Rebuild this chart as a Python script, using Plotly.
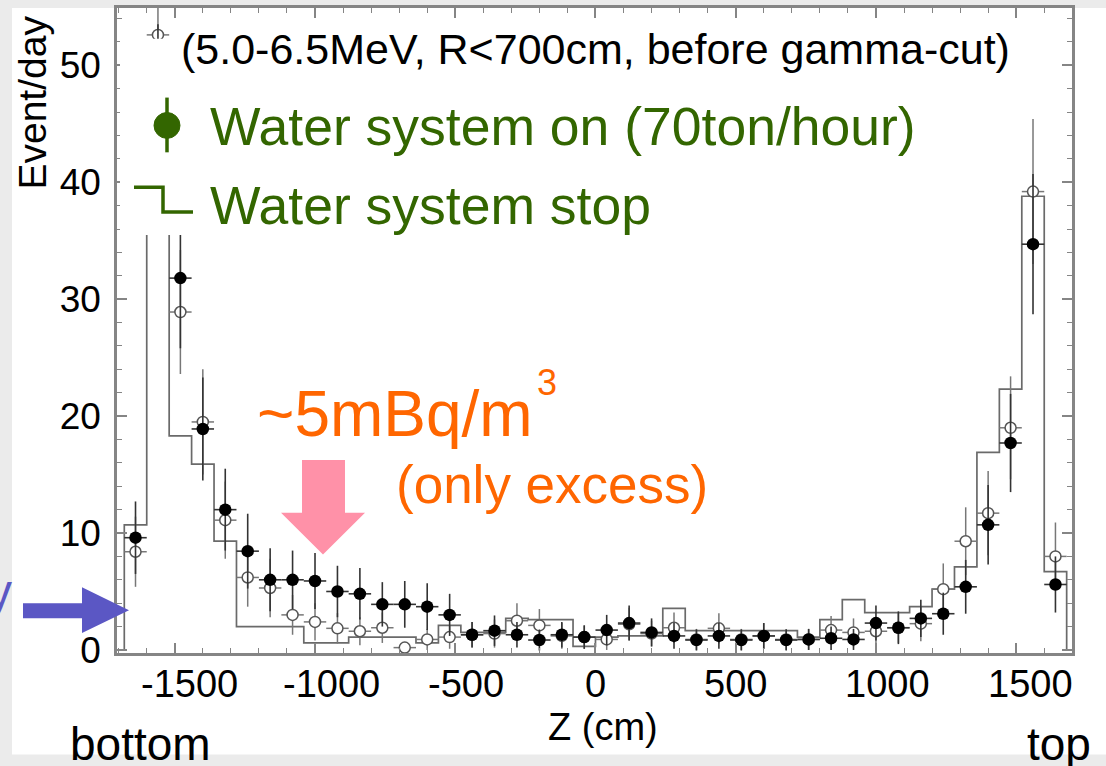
import plotly.graph_objects as go

# Z bin centres (cm), 80 cm bins
z_cm = [-1640, -1560, -1480, -1400, -1320, -1240, -1160, -1080, -1000, -920,
        -840, -760, -680, -600, -520, -440, -360, -280, -200, -120,
        -40, 40, 120, 200, 280, 360, 440, 520, 600, 680,
        760, 840, 920, 1000, 1080, 1160, 1240, 1320, 1400, 1480,
        1560, 1640]
bin_half = 40

# Water system stop: histogram (events/day)
stop_hist = [10.7, 50.0, 18.3, 15.9, 9.3, 2.0, 2.0, 2.0, 0.6, 0.6,
             1.1, 1.1, 1.1, 0.6, 2.1, 1.5, 1.5, 2.7, 2.6, 2.6,
             0.3, 1.1, 1.2, 1.2, 3.55, 1.65, 1.65, 1.65, 1.65, 1.65,
             1.1, 2.6, 4.3, 3.2, 3.2, 3.7, 5.2, 7.1, 16.9, 22.3,
             38.8, 6.7]

# open points (events/day) and their errors
open_vals = [8.4, 52.6, 28.9, 19.5, 11.1, 6.2, 5.3, 3.0, 2.4, 1.85,
             1.6, 1.9, 0.2, 0.9, 1.1, 1.3, 1.4, 2.5, 2.1, 1.2,
             1.1, 0.9, 2.2, 1.4, 1.9, 0.9, 1.85, 0.9, 1.2, 0.9,
             0.9, 1.7, 1.5, 1.6, 1.9, 2.25, 5.2, 9.3, 11.7, 19.0,
             39.2, 8.0]
open_err = [3.0, 6.8, 5.3, 4.5, 3.3, 2.5, 2.5, 1.7, 1.6, 1.3,
            1.2, 1.3, 0.4, 0.9, 1.0, 1.1, 1.2, 1.5, 1.4, 1.1,
            1.0, 0.9, 1.4, 1.1, 1.3, 0.9, 1.3, 0.9, 1.1, 0.9,
            0.9, 1.2, 1.2, 1.2, 1.3, 1.5, 2.2, 2.9, 3.6, 4.4,
            6.2, 2.9]

# Water system on (70 ton/hour): filled points and errors
on_vals = [9.6, 47.0, 31.8, 18.9, 12.0, 8.45, 6.0, 6.0, 5.9, 5.0,
           4.8, 3.9, 3.9, 3.7, 3.0, 1.3, 1.65, 1.3, 0.85, 1.3,
           1.1, 1.7, 2.3, 1.5, 1.2, 0.85, 1.2, 0.85, 1.2, 0.85,
           0.9, 1.0, 0.9, 2.3, 1.9, 2.7, 3.1, 5.4, 10.7, 17.7,
           34.7, 5.6]
on_err = [3.1, 6.5, 6.0, 4.4, 3.5, 3.2, 2.7, 2.5, 2.4, 2.2,
          2.2, 1.9, 2.0, 2.0, 1.8, 1.1, 1.3, 1.1, 0.9, 1.1,
          1.0, 1.3, 1.5, 1.2, 1.1, 0.9, 1.1, 0.9, 1.1, 0.9,
          0.9, 1.0, 0.9, 1.5, 1.4, 1.6, 1.8, 2.3, 3.4, 4.2,
          6.0, 2.4]

x_ticks = [-1500, -1000, -500, 0, 500, 1000, 1500]
x_ticktext = ["-1500", "-1000", "-500", "0", "500", "1000", "1500"]
y_ticks = [0, 10, 20, 30, 40, 50]

W, H = 1106, 766
L, R, T, B = 117, 1072, 5, 653
FONT = "Liberation Sans, Arial, sans-serif"
GREEN = "#336600"
ORANGE = "#ff6600"
AXIS_GREY = "#858585"

# horizontal nudge (px) of each x tick label, ROOT-style placement
x_label_shift = [15, 16, 11, 0, 0, 12, 14]


def fx(p):
    return (p - L) / (R - L)


def fy(p):
    return (B - p) / (B - T)


def path(points, close=True):
    s = "M " + " L ".join(f"{fx(a):.5f},{fy(b):.5f}" for a, b in points)
    return s + (" Z" if close else "")


# step outline of the histogram, closed to zero at both ends
edges = [c - bin_half for c in z_cm] + [z_cm[-1] + bin_half]
hx = [edges[0]] + edges[:-1] + [edges[-1]]
hy = [0] + stop_hist + [0]

fig = go.Figure()
fig.add_trace(go.Scatter(
    x=hx, y=hy, mode="lines",
    line=dict(shape="hv", color="#6a6a6a", width=1.7),
    hoverinfo="skip", showlegend=False))
fig.add_trace(go.Scatter(
    x=z_cm, y=open_vals, mode="markers",
    marker=dict(symbol="circle", size=11, color="white",
                line=dict(color="#555555", width=1.5)),
    error_y=dict(type="data", array=open_err, color="#777777", thickness=1.5, width=0),
    error_x=dict(type="constant", value=bin_half, color="#777777", thickness=1.5, width=0),
    showlegend=False))
fig.add_trace(go.Scatter(
    x=z_cm, y=on_vals, mode="markers",
    marker=dict(symbol="circle", size=12.5, color="black"),
    error_y=dict(type="data", array=on_err, color="#333333", thickness=1.6, width=0),
    error_x=dict(type="constant", value=bin_half, color="#333333", thickness=1.6, width=0),
    showlegend=False))

shapes = [
    # white slide area behind the chart
    dict(type="rect", xref="paper", yref="paper", layer="below",
         x0=fx(12), x1=fx(1106), y0=fy(755), y1=fy(5),
         fillcolor="white", line=dict(width=0)),
    # white legend panel
    dict(type="rect", xref="paper", yref="paper", layer="above",
         x0=fx(120), x1=fx(1012), y0=fy(233), y1=fy(36),
         fillcolor="white", line=dict(width=0)),
    # legend symbol: point with error bar
    dict(type="line", xref="paper", yref="paper", layer="above",
         x0=fx(167), x1=fx(167), y0=fy(150), y1=fy(95),
         line=dict(color=GREEN, width=3.5)),
    dict(type="circle", xref="paper", yref="paper", layer="above",
         x0=fx(154), x1=fx(180), y0=fy(136), y1=fy(110),
         fillcolor=GREEN, line=dict(color=GREEN, width=1)),
    # legend symbol: histogram step
    dict(type="path", xref="paper", yref="paper", layer="above",
         path=path([(134, 185), (163, 185), (163, 210), (193, 210)], close=False),
         line=dict(color=GREEN, width=3.5)),
    # pink down arrow
    dict(type="path", xref="paper", yref="paper", layer="above",
         path=path([(302, 459), (345, 459), (345, 512), (365, 512), (323, 554),
                    (281, 512), (302, 512)]),
         fillcolor="#ff91a8", line=dict(width=0)),
    # blue arrow at the left edge
    dict(type="path", xref="paper", yref="paper", layer="above",
         path=path([(23, 603), (82, 603), (82, 587), (129, 610), (82, 633),
                    (82, 618), (23, 618)]),
         fillcolor="#5b57c4", line=dict(width=0)),
]

annotations = [
    dict(text="(5.0-6.5MeV, R<700cm, before gamma-cut)", x=fx(179), y=fy(46),
         xanchor="left", yanchor="middle", font=dict(size=43, color="black")),
    dict(text="Water system on (70ton/hour)", x=fx(208), y=fy(124),
         xanchor="left", yanchor="middle", font=dict(size=53.5, color=GREEN)),
    dict(text="Water system stop", x=fx(208), y=fy(203),
         xanchor="left", yanchor="middle", font=dict(size=53.5, color=GREEN)),
    dict(text="~5mBq/m", x=fx(255), y=fy(413),
         xanchor="left", yanchor="middle", font=dict(size=64, color=ORANGE)),
    dict(text="3", x=fx(535), y=fy(381),
         xanchor="left", yanchor="middle", font=dict(size=36, color=ORANGE)),
    dict(text="(only excess)", x=fx(394), y=fy(484),
         xanchor="left", yanchor="middle", font=dict(size=53, color=ORANGE)),
    dict(text="y", x=fx(14), y=fy(591),
         xanchor="right", yanchor="middle", font=dict(size=48, color="#5b57c4")),
    dict(text="Event/day", x=fx(33), y=fy(100), textangle=-90,
         xanchor="center", yanchor="middle", font=dict(size=39, color="black")),
    dict(text="Z (cm)", x=fx(603), y=fy(727),
         xanchor="center", yanchor="middle", font=dict(size=38, color="black")),
    dict(text="bottom", x=fx(68), y=fy(744),
         xanchor="left", yanchor="middle", font=dict(size=46, color="black")),
    dict(text="top", x=fx(1025), y=fy(744),
         xanchor="left", yanchor="middle", font=dict(size=46, color="black")),
]
for a in annotations:
    a.update(xref="paper", yref="paper", showarrow=False)

# x tick labels, placed on the axis' own tick values
for val, txt, dx in zip(x_ticks, x_ticktext, x_label_shift):
    annotations.append(dict(
        text=txt, x=val, xref="x", y=fy(684), yref="paper",
        xanchor="center", yanchor="middle", xshift=dx, showarrow=False,
        font=dict(size=38, color="black", family=FONT)))

axis_common = dict(
    showgrid=False, zeroline=False, showline=True, linecolor=AXIS_GREY,
    linewidth=2.5, mirror="ticks", ticks="inside", tickcolor=AXIS_GREY,
    tickwidth=1.5, tickfont=dict(size=37, color="black", family=FONT),
)

fig.update_layout(
    width=W, height=H, autosize=False,
    margin=dict(l=L, r=W - R, t=T, b=H - B),
    paper_bgcolor="#ebebeb", plot_bgcolor="white",
    font=dict(family=FONT),
    showlegend=False,
    shapes=shapes, annotations=annotations,
    xaxis=dict(range=[-1706, 1699], tickvals=x_ticks, showticklabels=False,
               ticklen=10,
               minor=dict(dtick=100, tick0=0, ticklen=5, ticks="inside",
                          tickcolor=AXIS_GREY, tickwidth=1.2),
               **axis_common),
    yaxis=dict(range=[-0.26, 54.9], tickvals=y_ticks, ticklen=10,
               minor=dict(dtick=2, tick0=0, ticklen=5, ticks="inside",
                          tickcolor=AXIS_GREY, tickwidth=1.2),
               ticklabelstandoff=6, **axis_common),
)

fig.write_html("out.html")
